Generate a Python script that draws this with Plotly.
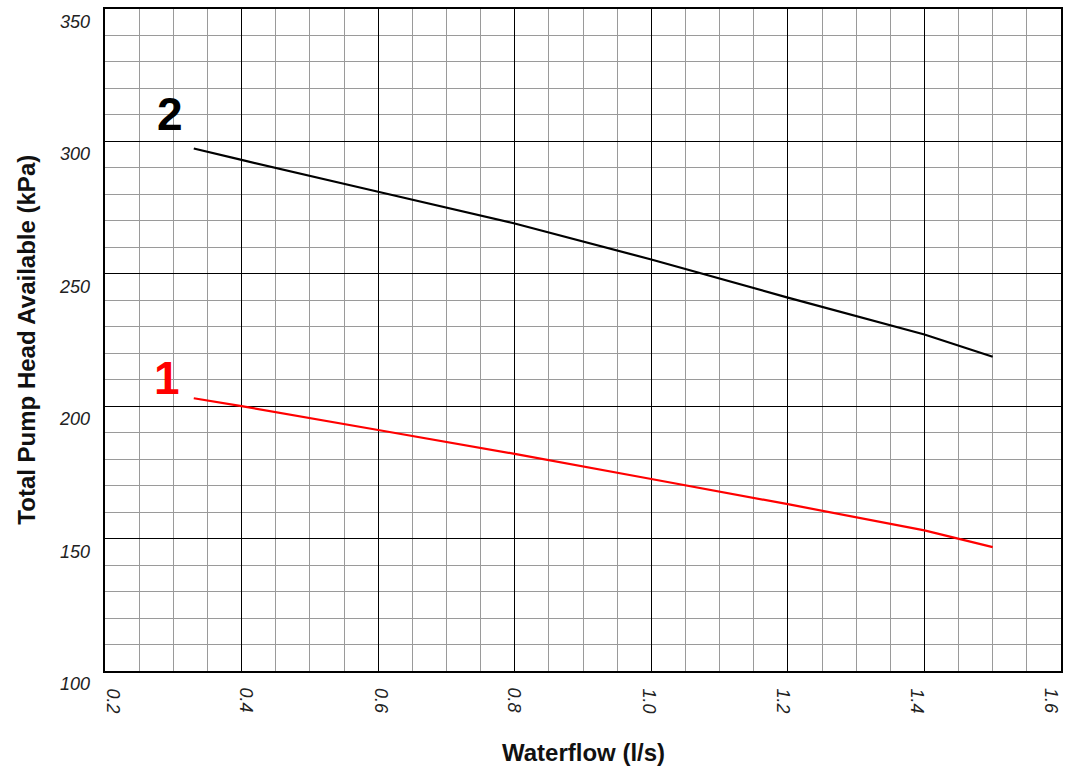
import plotly.graph_objects as go

# Data
waterflow = [0.33, 0.4, 0.6, 0.8, 1.0, 1.2, 1.4, 1.5]
head_curve2 = [297.3, 293.0, 281.0, 269.0, 255.4, 241.0, 227.1, 218.7]
head_curve1 = [203.0, 200.0, 191.0, 182.0, 172.5, 163.0, 153.1, 146.8]

x_ticks = [0.2, 0.4, 0.6, 0.8, 1.0, 1.2, 1.4, 1.6]
x_tick_labels = ["0.2", "0.4", "0.6", "0.8", "1.0", "1.2", "1.4", "1.6"]
y_ticks = [100, 150, 200, 250, 300, 350]
y_tick_labels = ["100", "150", "200", "250", "300", "350"]

curve_names = ["1", "2"]

FONT = "Liberation Sans, Arial, sans-serif"

fig = go.Figure()
fig.add_trace(go.Scatter(x=waterflow, y=head_curve2, mode="lines",
                         line=dict(color="#000000", width=2.2),
                         showlegend=False, hoverinfo="skip"))
fig.add_trace(go.Scatter(x=waterflow, y=head_curve1, mode="lines",
                         line=dict(color="#ff0000", width=2.2),
                         showlegend=False, hoverinfo="skip"))

annotations = []
for v, t in zip(y_ticks, y_tick_labels):
    annotations.append(dict(x=0, xref="paper", y=v, yref="y", text="<i>" + t + "</i>", showarrow=False,
                            xanchor="right", yanchor="middle", xshift=-13, yshift=-13,
                            font=dict(family=FONT, size=18, color="#222")))
n = len(x_ticks)
for i, (v, t) in enumerate(zip(x_ticks, x_tick_labels)):
    annotations.append(dict(x=v, xref="x", y=0, yref="paper", text="<i>" + t + "</i>", showarrow=False,
                            textangle=90, xanchor="center", yanchor="top",
                            xshift=8 - 18 * i / (n - 1), yshift=-15,
                            font=dict(family=FONT, size=18, color="#222")))
# curve number labels
annotations.append(dict(x=0.295, xref="x", y=310.5, yref="y", text="<b>" + curve_names[1] + "</b>",
                        showarrow=False, xanchor="center", yanchor="middle",
                        font=dict(family=FONT, size=46, color="#000000")))
annotations.append(dict(x=0.291, xref="x", y=210.7, yref="y", text="<b>" + curve_names[0] + "</b>",
                        showarrow=False, xanchor="center", yanchor="middle",
                        font=dict(family=FONT, size=46, color="#ff0000")))
# axis titles
annotations.append(dict(x=-0.083, xref="paper", y=0.5, yref="paper", text="<b>Total Pump Head Available (kPa)</b>",
                        showarrow=False, textangle=-90, xanchor="center", yanchor="middle",
                        font=dict(family=FONT, size=24, color="#111")))
annotations.append(dict(x=0.5, xref="paper", y=0, yref="paper", text="<b>Waterflow (l/s)</b>",
                        showarrow=False, xanchor="center", yanchor="middle", yshift=-81,
                        font=dict(family=FONT, size=24, color="#111")))

fig.update_layout(
    width=1075, height=770,
    margin=dict(l=105, r=14, t=7, b=99),
    paper_bgcolor="white", plot_bgcolor="white",
    annotations=annotations,
    font=dict(family=FONT),
)
fig.update_xaxes(range=[0.2, 1.6], tickvals=x_ticks, showticklabels=False, ticks="",
                 showgrid=True, gridcolor="#000000", gridwidth=1,
                 minor=dict(dtick=0.05, tick0=0.2, showgrid=True, gridcolor="#9a9a9a", gridwidth=1),
                 showline=True, linecolor="#000000", linewidth=2, mirror=True, zeroline=False)
fig.update_yaxes(range=[100, 350], tickvals=y_ticks, showticklabels=False, ticks="",
                 showgrid=True, gridcolor="#000000", gridwidth=1,
                 minor=dict(dtick=10, tick0=100, showgrid=True, gridcolor="#9a9a9a", gridwidth=1),
                 showline=True, linecolor="#000000", linewidth=2, mirror=True, zeroline=False)

fig.write_html("out.html", config={"displayModeBar": False},
               post_script="document.body.style.margin='0';document.body.style.overflow='hidden';")
